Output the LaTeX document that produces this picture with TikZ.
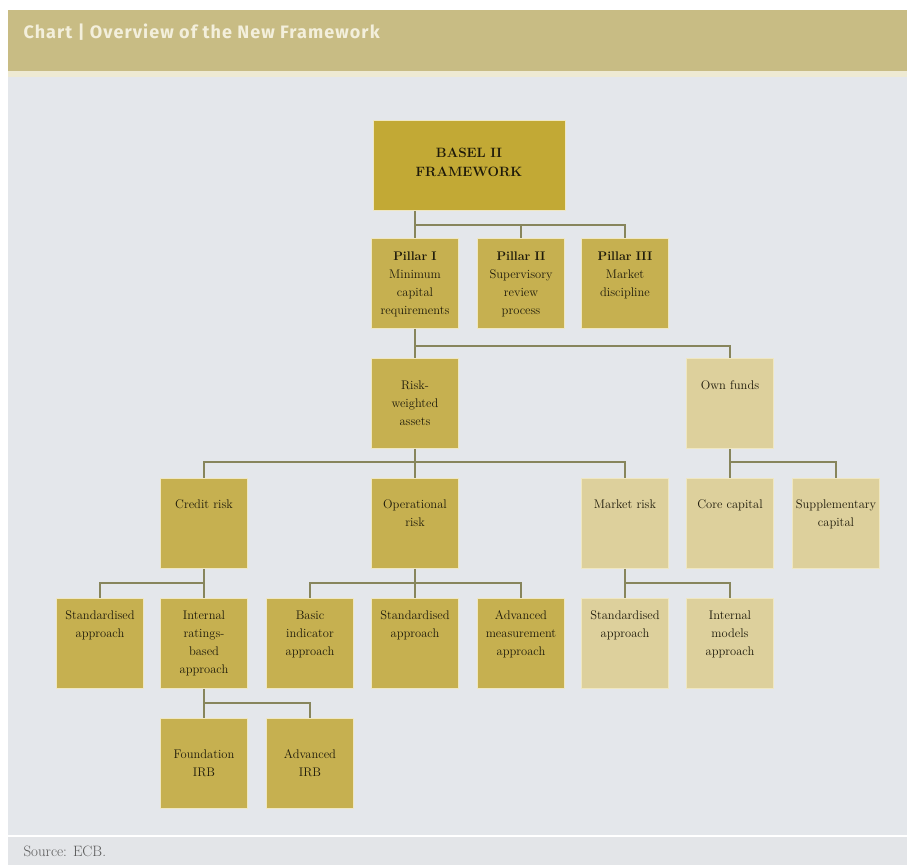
\documentclass[tikz,border=0pt]{standalone}
\usepackage{fontspec}
\usepackage{xcolor}
\usepackage{tikz}
\newfontfamily\titlefont{Fira Sans}[LetterSpace=6]
\definecolor{headc}{HTML}{C8BC84}
\definecolor{creamc}{HTML}{EEEAD3}
\definecolor{bodyc}{HTML}{E4E7EB}
\definecolor{footc}{HTML}{E3E5E8}
\definecolor{titlec}{HTML}{F3EFDC}
\definecolor{boxdark}{HTML}{C2A935}
\definecolor{boxmid}{HTML}{C6B050}
\definecolor{boxpale}{HTML}{DDD09C}
\definecolor{boxedge}{HTML}{EFE7C2}
\definecolor{boxtext}{HTML}{1E1A0A}
\definecolor{linkc}{HTML}{87855C}
\definecolor{srcc}{HTML}{5A5A5A}

\begin{document}
\begin{tikzpicture}[x=1pt, y=-1pt,
  box/.style={fill=boxmid, draw=boxedge, line width=0.8pt, anchor=north,
    text width=84pt, align=center, inner xsep=1.5pt, inner ysep=0pt,
    font=\fontsize{12.5}{18}\selectfont, text=boxtext,
    text height=#1, text depth={\the\dimexpr90pt-#1\relax}},
  pale/.style={fill=boxpale},
  link/.style={draw=linkc, line width=2.6pt}]
 \useasboundingbox (0,0) rectangle (907,865);
 % page background
 \fill[white] (0,0) rectangle (907,865);
 \fill[headc] (8,10) rectangle (907,71);
 \fill[creamc] (8,71) rectangle (907,77);
 \fill[bodyc] (8,77) rectangle (907,835);
 \fill[footc] (8,837) rectangle (907,865);
 \node[anchor=west, text=titlec, font=\titlefont\bfseries\fontsize{18}{20}\selectfont] (TITLE) at (20,32) {Chart | Overview of the New Framework};
 \node[anchor=west, text=srcc, font=\fontsize{15}{17}\selectfont] (SOURCE) at (20,851) {Source: ECB.};
 % framework and pillars
 \node[box=37pt, fill=boxdark, text width=189pt, font=\fontsize{13.5}{19}\selectfont] (BASEL) at (469,120) {\textbf{BASEL II}\\\textbf{FRAMEWORK}};
 \node[box=22.5pt] (PI) at (415,238) {\textbf{Pillar I}\\Minimum\\capital\\requirements};
 \node[box=22.5pt] (PII) at (521,238) {\textbf{Pillar II}\\Supervisory\\review\\process};
 \node[box=22.5pt] (PIII) at (625,238) {\textbf{Pillar III}\\Market\\discipline};
 % second level
 \node[box=31.5pt] (RWA) at (415,358) {Risk-\\weighted\\assets};
 \node[box=31.5pt, pale] (OWN) at (730,358) {Own funds};
 % risks and capital
 \node[box=30.5pt] (CR) at (204,478) {Credit risk};
 \node[box=30.5pt] (OR) at (415,478) {Operational\\risk};
 \node[box=30.5pt, pale] (MR) at (625,478) {Market risk};
 \node[box=30.5pt, pale] (CORE) at (730,478) {Core capital};
 \node[box=30.5pt, pale] (SUPP) at (836,478) {Supplementary\\capital};
 % approaches
 \node[box=21.5pt] (SACR) at (100,598) {Standardised\\approach};
 \node[box=21.5pt] (IRB) at (204,598) {Internal\\ratings-\\based\\approach};
 \node[box=21.5pt] (BIA) at (310,598) {Basic\\indicator\\approach};
 \node[box=21.5pt] (SAOR) at (415,598) {Standardised\\approach};
 \node[box=21.5pt] (AMA) at (521,598) {Advanced\\measurement\\approach};
 \node[box=21.5pt, pale] (SAMR) at (625,598) {Standardised\\approach};
 \node[box=21.5pt, pale] (IMA) at (730,598) {Internal\\models\\approach};
 \node[box=40.5pt] (FIRB) at (204,718) {Foundation\\IRB};
 \node[box=40.5pt] (AIRB) at (310,718) {Advanced\\IRB};
 % bar junctions
 \coordinate (J1) at (415,225);
 \coordinate (J2) at (415,346);
 \coordinate (J3) at (415,462);
 \coordinate (J4) at (730,462);
 \coordinate (J5) at (204,583);
 \coordinate (J6) at (415,583);
 \coordinate (J7) at (625,583);
 \coordinate (J8) at (204,703);
 % connectors
 \draw[link] (BASEL.south -| PI.north) -- (PI.north);
 \draw[link] (J1) -| (PII.north);
 \draw[link] (J1) -| (PIII.north);
 \draw[link] (PI.south) -- (RWA.north);
 \draw[link] (J2) -| (OWN.north);
 \draw[link] (RWA.south) -- (OR.north);
 \draw[link] (J3) -| (CR.north);
 \draw[link] (J3) -| (MR.north);
 \draw[link] (OWN.south) -- (CORE.north);
 \draw[link] (J4) -| (SUPP.north);
 \draw[link] (CR.south) -- (IRB.north);
 \draw[link] (J5) -| (SACR.north);
 \draw[link] (OR.south) -- (SAOR.north);
 \draw[link] (J6) -| (BIA.north);
 \draw[link] (J6) -| (AMA.north);
 \draw[link] (MR.south) -- (SAMR.north);
 \draw[link] (J7) -| (IMA.north);
 \draw[link] (IRB.south) -- (FIRB.north);
 \draw[link] (J8) -| (AIRB.north);
\end{tikzpicture}
\end{document}
